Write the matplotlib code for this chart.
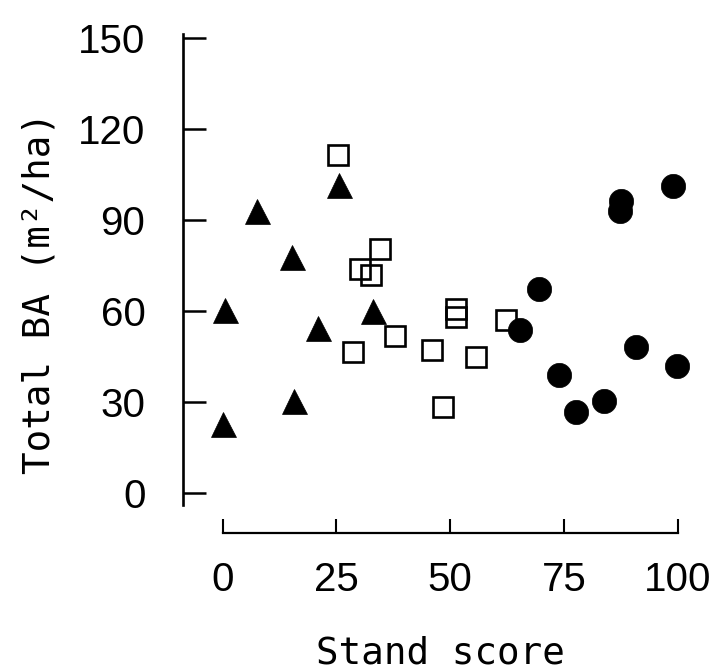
import matplotlib
matplotlib.use("Agg")
import matplotlib.pyplot as plt

# Stand score vs. total basal area, three stand groups
tri_score = [0.5, 0.0, 7.5, 15.3, 15.6, 21.0, 25.6, 33.1]
tri_ba = [60.3, 22.8, 93.0, 77.9, 30.3, 54.5, 101.7, 60.0]

sq_score = [25.4, 34.7, 30.3, 32.6, 51.2, 51.2, 37.8, 28.7, 46.1, 55.6, 48.5, 62.2]
sq_ba = [111.5, 80.7, 74.1, 71.9, 60.8, 58.0, 51.8, 46.6, 47.1, 45.1, 28.6, 57.2]

circ_score = [65.4, 69.6, 73.9, 77.7, 83.7, 90.9, 99.8, 98.9, 87.5, 87.3]
circ_ba = [53.8, 67.4, 39.0, 26.9, 30.4, 48.3, 42.1, 101.3, 96.4, 93.1]

x_ticks = [0, 25, 50, 75, 100]
y_ticks = [0, 30, 60, 90, 120, 150]

W, H = 716, 672
fig = plt.figure(figsize=(W / 100, H / 100), dpi=100)
fig.patch.set_facecolor("white")

left, right, top, bottom = 183, 690, 33, 533
ax = fig.add_axes([left / W, 1 - bottom / H, (right - left) / W, (bottom - top) / H])
ax.set_xlim(-8.68, 102.7)
ax.set_ylim(-13.1, 151.8)

ax.plot(sq_score, sq_ba, linestyle="none", marker="s", markersize=13.8,
        markerfacecolor="none", markeredgecolor="black", markeredgewidth=1.9, zorder=3)
ax.plot(tri_score, tri_ba, linestyle="none", marker="^", markersize=18,
        markerfacecolor="black", markeredgecolor="black", markeredgewidth=0.5, zorder=4)
ax.plot(circ_score, circ_ba, linestyle="none", marker="o", markersize=17.5,
        markerfacecolor="black", markeredgecolor="black", markeredgewidth=0.5, zorder=5)

for side in ("top", "right"):
    ax.spines[side].set_visible(False)
ax.spines["left"].set_bounds(-3.9, 151.6)
ax.spines["left"].set_linewidth(1.9)
ax.spines["bottom"].set_bounds(0, 100)
ax.spines["bottom"].set_linewidth(1.6)

digit_font = ["Liberation Sans", "DejaVu Sans"]
label_font = ["DejaVu Sans Mono"]

ax.set_xticks(x_ticks)
ax.set_yticks(y_ticks)
ax.set_xticklabels([str(v) for v in x_ticks], fontfamily=digit_font, fontsize=29)
ax.set_yticklabels([str(v) for v in y_ticks], fontfamily=digit_font, fontsize=29)
ax.tick_params(axis="y", direction="in", length=16.6, width=1.8, pad=27)
ax.tick_params(axis="x", direction="in", length=10, width=1.5, pad=20)

fig.text(440 / W, 1 - 663 / H, "Stand score", fontfamily=label_font, fontsize=27,
         ha="center", va="baseline")
fig.text(50 / W, 1 - 293 / H, "Total BA (m\u00b2/ha)", fontfamily=label_font, fontsize=27,
         ha="center", va="baseline", rotation=90, rotation_mode="anchor")

fig.savefig("out.png", dpi=100, facecolor="white")
